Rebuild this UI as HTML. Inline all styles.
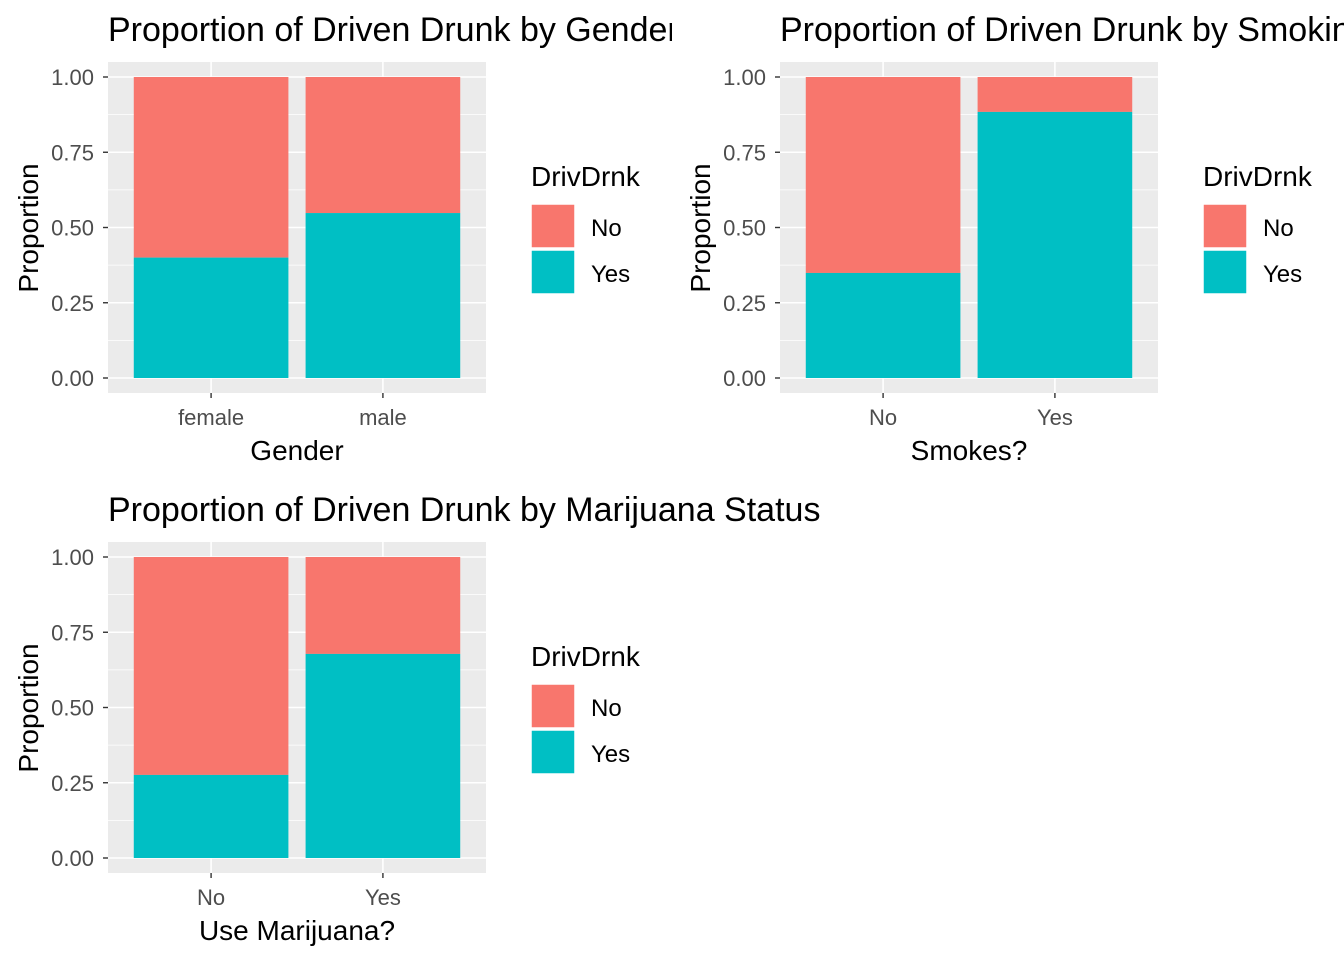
<!DOCTYPE html>
<html><head><meta charset="utf-8"><style>
html,body{margin:0;padding:0;background:#fff;overflow:hidden;width:1344px;height:960px}
svg{display:block;font-family:"Liberation Sans",Arial,sans-serif}
</style></head><body>
<svg id="chart" width="1344" height="960" viewBox="0 0 1344 960">
<defs><clipPath id="clip1"><rect x="0" y="0" width="672" height="480"/></clipPath></defs>
</svg>
<script>
const panelTitles = ["Proportion of Driven Drunk by Gender","Proportion of Driven Drunk by Smoking Status","Proportion of Driven Drunk by Marijuana Status"];
const xTitles = ["Gender","Smokes?","Use Marijuana?"];
const cats1 = ["female","male"];
const cats2 = ["No","Yes"];
const cats3 = ["No","Yes"];
const yes1 = [0.40, 0.548];
const yes2 = [0.349, 0.884];
const yes3 = [0.276, 0.678];
const yTicks = [0, 0.25, 0.5, 0.75, 1];
const yTickLabels = ["0.00","0.25","0.50","0.75","1.00"];
const legendLabels = ["No","Yes"];

const NS="http://www.w3.org/2000/svg";
const svg=document.getElementById('chart');
function mk(tag,attrs,parent){const e=document.createElementNS(NS,tag);for(const k in attrs)e.setAttribute(k,attrs[k]);(parent||svg).appendChild(e);return e;}
const COLS={No:"#F8766D",Yes:"#00BFC4"};

function panel(idx,ox,oy,cats,yes){
  const g=mk('g',{});
  
  
  const L=ox+108,R=ox+486,T=oy+62,B=oy+393;
  const y=v=>oy+378-v*301;
  const n=cats.length;
  const unit=(R-L)/(n+0.2);
  const x=i=>L+unit*(i+0.6);
  const bg=mk('rect',{x:L,y:T,width:R-L,height:B-T,fill:'#EBEBEB'},g);
  
  
  for(let i=0;i<yTicks.length-1;i++){const v=(yTicks[i]+yTicks[i+1])/2;mk('line',{x1:L,x2:R,y1:y(v),y2:y(v),stroke:'#fff','stroke-width':0.8},g);}
  yTicks.forEach(v=>mk('line',{x1:L,x2:R,y1:y(v),y2:y(v),stroke:'#fff','stroke-width':1.6},g));
  cats.forEach((c,i)=>mk('line',{x1:x(i),x2:x(i),y1:T,y2:B,stroke:'#fff','stroke-width':1.6},g));
  const bw=unit*0.9;
  cats.forEach((c,i)=>{
    const no=mk('rect',{x:x(i)-bw/2,y:y(1),width:bw,height:y(yes[i])-y(1),fill:COLS.No},g);
    
    
    const ys=mk('rect',{x:x(i)-bw/2,y:y(yes[i]),width:bw,height:y(0)-y(yes[i]),fill:COLS.Yes},g);
    
    
  });
  yTicks.forEach((v,i)=>{
    mk('line',{x1:L-5,x2:L,y1:y(v),y2:y(v),stroke:'#333','stroke-width':1.4},g);
    const t=mk('text',{x:L-14,y:y(v)+8,'text-anchor':'end','font-size':22,fill:'#4D4D4D'},g);
    t.textContent=yTickLabels[i];
    
    
  });
  cats.forEach((c,i)=>{
    mk('line',{x1:x(i),x2:x(i),y1:B,y2:B+5,stroke:'#333','stroke-width':1.4},g);
    const t=mk('text',{x:x(i),y:B+32,'text-anchor':'middle','font-size':22,fill:'#4D4D4D'},g);
    t.textContent=c;
    
    
  });
  const tattrs={x:L,y:oy+41,'font-size':34,fill:'#000'};
  if(idx===0) tattrs['clip-path']='url(#clip1)';
  const tt=mk('text',tattrs,g);
  tt.textContent=panelTitles[idx];
  
  
  const xt=mk('text',{x:(L+R)/2,y:oy+460,'text-anchor':'middle','font-size':28,fill:'#000'},g);
  xt.textContent=xTitles[idx];
  
  
  const yt=mk('text',{x:0,y:0,'text-anchor':'middle','font-size':28,fill:'#000',transform:`translate(${ox+38},${oy+228}) rotate(-90)`},g);
  yt.textContent="Proportion";
  
  
  const lt=mk('text',{x:ox+531,y:oy+186,'font-size':28,fill:'#000'},g);
  lt.textContent="DrivDrnk";
  
  
  legendLabels.forEach((lab,i)=>{
    const r=mk('rect',{x:ox+531,y:oy+204+i*46,width:44,height:44,fill:COLS[lab],stroke:'#fff','stroke-width':1.5},g);
    
    
    const t=mk('text',{x:ox+591,y:oy+236+i*46,'font-size':24,fill:'#000'},g);
    t.textContent=lab;
    
    
  });
}
panel(0,0,0,cats1,yes1);
panel(1,672,0,cats2,yes2);
panel(2,0,480,cats3,yes3);
</script>
</body></html>
